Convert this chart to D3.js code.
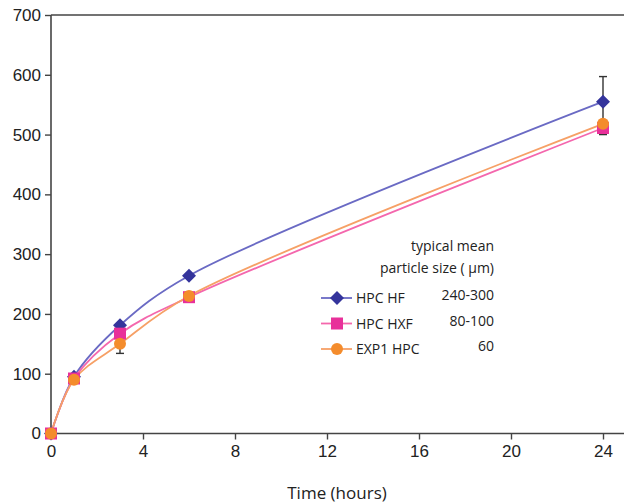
<!DOCTYPE html>
<html>
<head>
<meta charset="utf-8">
<script src="https://cdn.jsdelivr.net/npm/d3@7"></script>
<style>
  body { margin: 0; background: #fff; }
  svg { display: block; font-family: "Open Sans", "Noto Sans", sans-serif; }
</style>
</head>
<body>
<script>
// time points (hours)
const hours = [0, 1, 3, 6, 24];

const hpcHF = [0, 95, 181, 264, 555];
const hpcHXF = [0, 92, 167, 228, 511];
const exp1HPC = [0, 90, 150, 230, 518];

// error bars: [hour, low, high]
const errHF = [[24, 500, 597]];
const errHXF = [[24, 502, 522]];
const errEXP = [[3, 134, 160], [6, 222, 236]];

const xTicks = [0, 4, 8, 12, 16, 20, 24];
const yTicks = [0, 100, 200, 300, 400, 500, 600, 700];

const seriesNames = ['HPC HF', 'HPC HXF', 'EXP1 HPC'];
const sizeLabels = ['240-300', '80-100', '60'];

const series = [
  { name: seriesNames[0], size: sizeLabels[0], values: hpcHF, err: errHF, line: '#6a6ac4', fill: '#34349c', shape: 'diamond' },
  { name: seriesNames[1], size: sizeLabels[1], values: hpcHXF, err: errHXF, line: '#f467ad', fill: '#e8309a', shape: 'square' },
  { name: seriesNames[2], size: sizeLabels[2], values: exp1HPC, err: errEXP, line: '#f6a066', fill: '#f48c2c', shape: 'circle' }
];

const width = 624, height = 504;
const margin = { top: 15, right: 21, bottom: 71, left: 51 };

const svg = d3.select('body').append('svg')
  .attr('width', width)
  .attr('height', height);

const x = d3.scaleLinear().domain([0, 24]).range([margin.left, width - margin.right]);
const y = d3.scaleLinear().domain([0, 700]).range([height - margin.bottom + 0.5, margin.top]);

const axisColor = '#444';

// frame top line
svg.append('line')
  .attr('x1', margin.left).attr('x2', width)
  .attr('y1', y(700)).attr('y2', y(700))
  .attr('stroke', axisColor).attr('stroke-width', 1.6);

// x axis
const xAxis = svg.append('g')
  .attr('transform', `translate(0,${y(0)})`)
  .call(d3.axisBottom(x).tickValues(xTicks).tickSize(6).tickPadding(5));
xAxis.select('.domain').remove();
xAxis.append('line')
  .attr('x1', margin.left).attr('x2', width)
  .attr('stroke', axisColor).attr('stroke-width', 1.6);
xAxis.selectAll('.tick line').attr('stroke', axisColor).attr('stroke-width', 1.4);
xAxis.selectAll('.tick text').attr('fill', '#222').style('font-size', '17px');

// y axis
const yAxis = svg.append('g')
  .attr('transform', `translate(${x(0)},0)`)
  .call(d3.axisLeft(y).tickValues(yTicks).tickSize(6).tickPadding(4));
yAxis.select('.domain').remove();
yAxis.append('line')
  .attr('y1', y(0)).attr('y2', y(700))
  .attr('stroke', axisColor).attr('stroke-width', 1.6);
yAxis.selectAll('.tick line').attr('stroke', axisColor).attr('stroke-width', 1.4);
yAxis.selectAll('.tick text').attr('fill', '#222').style('font-size', '17px');

// axis title
svg.append('text')
  .attr('x', 337).attr('y', 499)
  .attr('text-anchor', 'middle')
  .attr('fill', '#222')
  .style('font-size', '17px')
  .text('Time (hours)');

const line = d3.line()
  .x((d, i) => x(hours[i]))
  .y(d => y(d))
  .curve(d3.curveCatmullRom.alpha(0.5));

function marker(sel, shape, fill) {
  if (shape === 'diamond') {
    sel.append('path').attr('d', 'M0,-7L7,0L0,7L-7,0Z').attr('fill', fill);
  } else if (shape === 'square') {
    sel.append('rect').attr('x', -6).attr('y', -6).attr('width', 12).attr('height', 12).attr('fill', fill);
  } else {
    sel.append('circle').attr('r', 6).attr('fill', fill);
  }
}

// lines
series.forEach(s => {
  svg.append('path')
    .attr('d', line(s.values))
    .attr('fill', 'none')
    .attr('stroke', s.line)
    .attr('stroke-width', 1.8);
});

// error bars
series.forEach(s => {
  s.err.forEach(([h, lo, hi]) => {
    const g = svg.append('g').attr('stroke', '#333').attr('stroke-width', 1.4);
    g.append('line').attr('x1', x(h)).attr('x2', x(h)).attr('y1', y(lo)).attr('y2', y(hi));
    g.append('line').attr('x1', x(h) - 4).attr('x2', x(h) + 4).attr('y1', y(lo)).attr('y2', y(lo));
    g.append('line').attr('x1', x(h) - 4).attr('x2', x(h) + 4).attr('y1', y(hi)).attr('y2', y(hi));
  });
});

// markers
series.forEach(s => {
  s.values.forEach((v, i) => {
    const g = svg.append('g').attr('transform', `translate(${x(hours[i])},${y(v)})`);
    marker(g, s.shape, s.fill);
  });
});

// legend
const legX = 321, legRight = 494;
const legend = svg.append('g').style('font-size', '14px').attr('fill', '#222');
legend.append('text').attr('x', legRight).attr('y', 251).attr('text-anchor', 'end').text('typical mean');
legend.append('text').attr('x', legRight).attr('y', 273).attr('text-anchor', 'end').text('particle size ( \u03bcm)');

series.forEach((s, i) => {
  const cy = 298 + i * 25.5;
  legend.append('line')
    .attr('x1', legX).attr('x2', legX + 31)
    .attr('y1', cy).attr('y2', cy)
    .attr('stroke', s.line).attr('stroke-width', 1.8);
  const m = legend.append('g').attr('transform', `translate(${legX + 16},${cy})`);
  marker(m, s.shape, s.fill);
  legend.append('text').attr('x', legX + 35).attr('y', cy + 5).text(s.name);
  legend.append('text').attr('x', legRight).attr('y', cy + 2).attr('text-anchor', 'end').text(s.size);
});
</script>
</body>
</html>
